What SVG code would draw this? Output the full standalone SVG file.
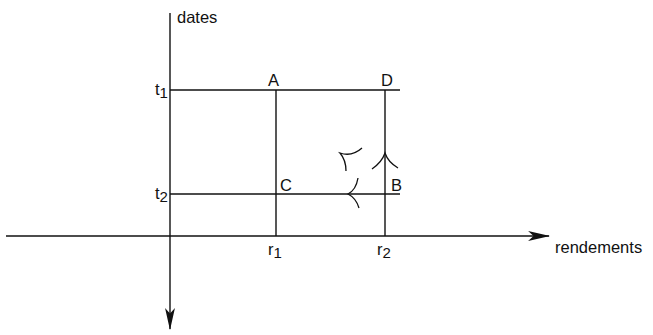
<svg xmlns="http://www.w3.org/2000/svg" width="653" height="335" viewBox="0 0 653 335">
<defs>
<style>
.ln{stroke:#111;stroke-width:1.4;fill:none}
.ch{stroke:#111;stroke-width:1.3;fill:none}
text{font-family:"Liberation Sans",Arial,sans-serif;font-size:16.5px;fill:#111}
.sub{font-size:15px}
</style>
<marker id="ahl" viewBox="0 0 20 10" refX="19" refY="5" markerWidth="22" markerHeight="11" markerUnits="userSpaceOnUse" orient="auto">
<path d="M0,0.5 L20,5 L0,9.5 L5,5 Z" fill="#111"/>
</marker>
</defs>
<g id="connectors">
<line class="ln" x1="6" y1="236" x2="549" y2="236" marker-end="url(#ahl)"/>
<line class="ln" x1="170" y1="13" x2="170" y2="329" marker-end="url(#ahl)"/>
<line class="ln" x1="170" y1="90" x2="400" y2="90"/>
<line class="ln" x1="170" y1="194" x2="400" y2="194"/>
<line class="ln" x1="276" y1="90" x2="276" y2="236"/>
<line class="ln" x1="385" y1="90" x2="385" y2="236"/>
<path class="ch" d="M372,169 Q382,162 385,153 Q388,162 398,168"/>
<path class="ch" d="M358,178 Q356,190 348,194 Q356,198 359,208"/>
<path class="ch" d="M362,148 Q352,157 340,153 Q346,160 346,171"/>
</g>
<g id="labels">
<text x="177" y="23">dates</text>
<text x="155" y="95">t<tspan class="sub" dy="3">1</tspan></text>
<text x="155" y="199">t<tspan class="sub" dy="3">2</tspan></text>
<text x="268" y="86">A</text>
<text x="381" y="86">D</text>
<text x="280" y="191">C</text>
<text x="391" y="191">B</text>
<text x="268" y="255">r<tspan class="sub" dy="3">1</tspan></text>
<text x="377" y="255">r<tspan class="sub" dy="3">2</tspan></text>
<text x="555" y="253">rendements</text>
</g>
</svg>
